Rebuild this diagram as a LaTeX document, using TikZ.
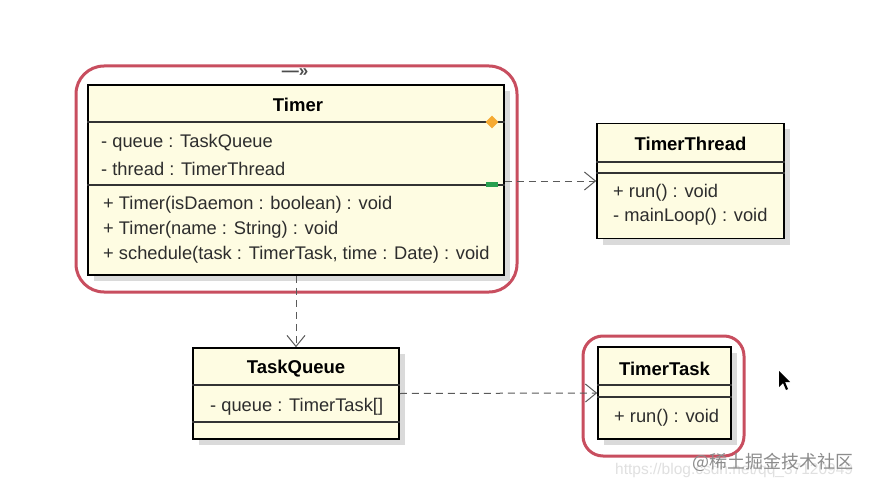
\documentclass[tikz,border=0pt]{standalone}
\usepackage{fontspec}
\setmainfont{Liberation Sans}
\newfontfamily\cjk{Noto Sans CJK SC}
\usetikzlibrary{arrows.meta,shapes.geometric,shadows}
\definecolor{boxfill}{RGB}{254,252,226}
\definecolor{boxshadow}{RGB}{218,218,218}
\definecolor{hl}{RGB}{200,78,95}
\definecolor{txt}{RGB}{45,45,45}
\definecolor{dep}{RGB}{90,90,90}
\tikzset{
  classbox/.style={draw=black, line width=1.6pt, fill=boxfill, inner sep=0pt,
    drop shadow={shadow xshift=6pt, shadow yshift=-6pt, fill=boxshadow, opacity=1}},
  title/.style={font=\fontsize{18.5}{22}\selectfont\bfseries, text=black, inner sep=0pt},
  member/.style={font=\fontsize{18.3}{22}\selectfont, text=txt, anchor=west, inner sep=0pt},
  divider/.style={draw=black!80, line width=1.1pt},
  depend/.style={draw=dep, line width=1pt, dash pattern=on 7pt off 5pt,
    -{Straight Barb[length=11pt, width=18pt, line width=1pt]}},
  highlight/.style={draw=hl, line width=3pt, rounded corners=28pt},
}
\begin{document}
\begin{tikzpicture}[x=1pt,y=-1pt]
\useasboundingbox[fill=white] (0,0) rectangle (869,489);

% highlight frames
\draw[highlight] (76,66) rectangle (517,292);
\draw[highlight, rounded corners=20pt] (583,336) rectangle (744,456);

% Timer
\node[classbox, minimum width=416pt, minimum height=190pt] (timer) at (296,180) {};
\draw[divider] (timer.west |- 0,122) -- (timer.east |- 0,122);
\draw[divider] (timer.west |- 0,185) -- (timer.east |- 0,185);
\node[title] (timerT) at (298,105) {Timer};
\node[member] (ta1) at (101,143) {- queue : TaskQueue};
\node[member] (ta2) at (101,169) {- thread : TimerThread};
\node[member] (tm1) at (103,205) {+ Timer(isDaemon : boolean) : void};
\node[member] (tm2) at (103,230) {+ Timer(name : String) : void};
\node[member] (tm3) at (103,255) {+ schedule(task : TimerTask, time : Date) : void};
\node[diamond, fill={rgb,255:red,246;green,170;blue,50}, minimum size=13pt, inner sep=0pt] (dia) at (492,122) {};
\node[fill={rgb,255:red,40;green,160;blue,80}, minimum width=12pt, minimum height=5pt, inner sep=0pt] (grn) at (492,184) {};
\node[font=\fontsize{17}{17}\selectfont\bfseries, text=black!70, inner sep=0pt] (coll) at (295,73) {—»};

% TimerThread
\node[classbox, minimum width=187pt, minimum height=115pt] (thread) at (690.5,181) {};
\draw[divider] (thread.west |- 0,162) -- (thread.east |- 0,162);
\draw[divider] (thread.west |- 0,173) -- (thread.east |- 0,173);
\node[title] (threadT) at (690.5,144) {TimerThread};
\node[member] (th1) at (613,193) {+ run() : void};
\node[member] (th2) at (613,217) {- mainLoop() : void};

% TaskQueue
\node[classbox, minimum width=206pt, minimum height=91pt] (tq) at (296,393.5) {};
\draw[divider] (tq.west |- 0,385) -- (tq.east |- 0,385);
\draw[divider] (tq.west |- 0,422) -- (tq.east |- 0,422);
\node[title] (tqT) at (296,369) {TaskQueue};
\node[member] (tq1) at (210,407) {- queue : TimerTask[]};

% TimerTask
\node[classbox, minimum width=133pt, minimum height=92pt] (tt) at (664.5,393) {};
\draw[divider] (tt.west |- 0,385) -- (tt.east |- 0,385);
\draw[divider] (tt.west |- 0,397) -- (tt.east |- 0,397);
\node[title] (ttT) at (664.5,369) {TimerTask};
\node[member] (tt1) at (614,418) {+ run() : void};

% dependencies
\draw[depend] (timer.east |- thread.west) -- (thread.west);
\draw[depend] (timer.south) -- (tq.north);
\draw[depend] (tq.east) -- (tt.west);

% cursor
\fill[black] (779,371) -- (779,387) -- (783,383) -- (786,390) -- (788,389) -- (785,382) -- (790,382) -- cycle;

% watermark
\node[font=\fontsize{15.5}{16}\selectfont, text=black!12, anchor=west, inner sep=0pt] (url) at (615,470) {https://blog.csdn.net/qq\_37120949};
\node[font=\cjk\fontsize{18}{18}\selectfont, text=black!45, anchor=west, inner sep=0pt] (wm) at (692,462) {@稀土掘金技术社区};
\end{tikzpicture}
\end{document}
